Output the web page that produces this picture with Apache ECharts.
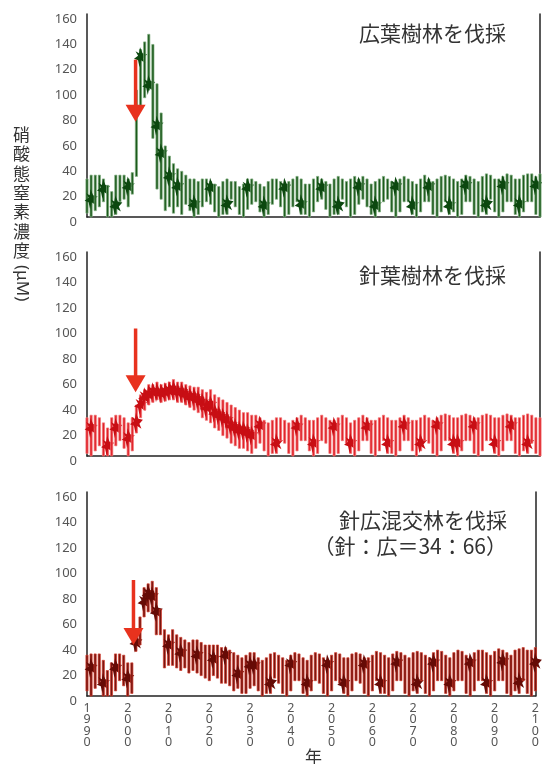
<!DOCTYPE html>
<html><head><meta charset="utf-8">
<script src="https://cdn.jsdelivr.net/npm/echarts/dist/echarts.min.js"></script>
<style>html,body{margin:0;padding:0;background:#fff}#c{width:542px;height:764px}</style>
</head><body><div id="c"></div>
<script>
// categories: one range bar per year, 1990 … 2100
const years = [];
for (let y = 1990; y <= 2100; y++) years.push(y);
const xTickLabels = [1990,2000,2010,2020,2030,2040,2050,2060,2070,2080,2090,2100];
const yTickLabels = [0,20,40,60,80,100,120,140,160];

// Panel 1: 広葉樹林を伐採 (broadleaf)
const broadLow = [
  3,0,5,8,12,0,0,2,12,14,
  8,18,32,88,94,100,62,22,14,5,
  8,3,8,2,10,5,0,2,8,12,
  10,4,0,2,2,14,8,2,0,6,
  10,12,4,0,2,10,14,8,0,2,
  8,12,2,2,0,4,12,14,6,0,
  2,2,14,8,0,2,10,14,8,2,
  0,4,12,14,4,0,4,12,12,2,
  0,4,12,12,2,0,4,12,2,4,
  0,2,12,12,2,0,4,2,14,4,
  0,4,12,12,2,0,4,12,12,2,
  0];
const broadHigh = [
  30,33,33,33,30,25,20,33,33,33,
  30,35,100,132,138,144,136,105,82,56,
  48,42,38,36,33,30,30,28,30,30,
  28,26,24,28,30,28,28,24,26,30,
  30,28,26,24,28,30,30,28,26,28,
  30,32,30,26,26,30,32,30,28,26,
  30,32,30,28,30,32,30,32,30,26,
  28,30,32,30,28,26,30,32,30,28,
  26,30,33,30,28,30,32,33,32,30,
  28,30,33,32,30,28,32,34,33,30,
  30,32,34,33,30,30,33,34,34,32,
  34];
const broadCore = [
  null,14,null,null,22,null,null,9,null,null,
  24,null,null,126,null,104,null,72,50,null,
  32,null,24,null,null,null,10,null,null,null,
  23,null,null,null,10,null,null,null,null,23,
  null,null,null,9,null,null,null,null,23,null,
  null,null,10,null,null,null,null,23,null,null,
  null,9,null,null,null,null,24,null,null,null,
  9,null,null,null,null,24,null,null,null,9,
  null,null,null,24,null,null,null,null,9,null,
  null,null,25,null,null,null,null,10,null,null,
  null,25,null,null,null,10,null,null,null,25,
  null];

// Panel 2: 針葉樹林を伐採 (conifer)
const coniferLow = [
  2,0,4,8,0,0,0,8,12,6,
  0,4,18,30,36,40,42,44,42,43,
  44,44,42,42,40,38,36,34,30,28,
  26,22,20,16,14,10,8,6,6,4,
  2,6,10,4,0,2,2,12,10,2,
  0,4,12,12,4,0,2,12,10,2,
  0,2,12,10,2,0,4,12,12,2,
  0,4,12,2,2,0,4,12,12,4,
  0,4,12,10,2,0,4,12,12,2,
  0,4,12,12,2,0,4,12,12,2,
  0,4,12,12,2,0,4,2,10,2,
  0];
const coniferHigh = [
  30,32,32,30,26,22,30,32,32,30,
  26,30,40,48,52,56,56,58,56,57,
  58,60,58,58,56,55,54,54,52,50,
  52,48,46,44,42,40,38,36,34,34,
  32,32,30,28,26,28,30,30,28,26,
  28,30,32,30,28,28,30,32,30,28,
  28,30,32,30,26,28,30,32,30,28,
  28,30,32,30,28,28,30,32,30,28,
  28,30,32,30,28,30,32,33,32,30,
  30,32,33,32,30,30,32,33,32,30,
  30,32,33,32,30,30,32,33,32,30,
  30];
const coniferCore = [
  null,22,null,null,null,8,null,22,null,null,
  14,null,26,40,46,48,50,50,49,50,
  51,52,50,50,48,46,46,44,42,38,
  40,34,32,30,28,24,22,20,20,18,
  16,null,24,null,null,null,10,null,null,null,
  null,23,null,null,null,10,null,null,null,null,
  23,null,null,null,10,null,null,null,23,null,
  null,null,null,10,null,null,null,24,null,null,
  null,10,null,null,null,24,null,null,null,10,
  10,null,null,null,24,null,null,null,null,10,
  null,null,null,24,null,null,null,10,null,null,
  null];

// Panel 3: 針広混交林を伐採 (mixed 34:66)
const mixedLow = [
  4,0,6,10,0,0,0,4,12,8,
  0,2,35,40,62,66,66,48,48,22,
  24,24,22,20,22,18,20,18,16,14,
  12,16,14,10,10,8,4,6,2,2,
  6,8,4,0,2,2,14,10,2,0,
  4,12,12,2,0,4,12,10,2,0,
  4,12,10,2,0,4,12,10,2,0,
  4,12,2,2,0,4,12,12,2,0,
  4,2,12,2,0,4,12,12,2,0,
  4,12,12,2,0,4,12,12,2,0,
  4,12,12,2,0,4,2,12,2,0,
  4];
const mixedHigh = [
  32,33,33,33,28,20,26,33,33,32,
  26,26,48,62,85,88,90,85,68,52,
  48,52,48,46,44,42,44,44,42,40,
  40,40,40,38,38,36,34,32,30,32,
  34,34,30,28,30,33,34,32,30,28,
  32,34,33,30,28,32,34,33,30,28,
  32,34,33,30,30,33,34,33,30,30,
  32,35,34,32,30,33,35,34,32,30,
  34,35,34,32,30,34,36,35,32,30,
  34,36,35,32,30,34,36,36,34,32,
  35,37,36,34,32,36,37,38,36,36,
  38];
const mixedCore = [
  null,22,null,null,10,null,null,22,null,null,
  14,null,42,null,74,80,78,66,null,null,
  40,null,null,34,null,null,null,32,null,null,
  null,29,null,null,32,null,null,17,null,null,
  24,24,null,null,null,10,null,null,null,null,
  25,null,null,null,10,null,null,null,null,25,
  null,null,null,10,null,null,null,null,25,null,
  null,null,10,null,null,null,26,null,null,null,
  null,10,null,null,null,26,null,null,null,10,
  null,null,null,null,26,null,null,null,10,null,
  null,null,27,null,null,null,11,null,null,null,
  26];

// felling arrows: year, shaft top value, arrow tip value
const arrowYear = [2001.8, 2001.8, 2001.4];
const arrowTop  = [124, 100, 91];
const arrowTip  = [75, 50, 40];

const panelTitles = ['広葉樹林を伐採', '針葉樹林を伐採', '針広混交林を伐採\n（針：広＝34：66）'];

const panels = [
  {low: broadLow, high: broadHigh, core: broadCore, bar:'#1c5a1c', edge:'#7fae7f', blob:'#0c480f'},
  {low: coniferLow, high: coniferHigh, core: coniferCore, bar:'#e0222a', edge:'#f27474', blob:'#c80e14'},
  {low: mixedLow, high: mixedHigh, core: mixedCore, bar:'#761510', edge:'#d43c2c', blob:'#660b06'}
];

const grids = [
  {left: 87, right: 2, top: 14, height: 203},
  {left: 87, right: 2, top: 252, height: 204},
  {left: 87, right: 2, top: 492, height: 204}
];

const axisColor = '#222';
const labelColor = '#555';
const FONT = '"Noto Sans", "Liberation Sans", sans-serif';
const CJK = '"Noto Sans CJK JP", sans-serif';

function makeRender(p) {
  return function (params, api) {
    const i = params.dataIndex;
    const x = api.value(0);
    const top = api.coord([x, api.value(2)]);
    const bot = api.coord([x, api.value(1)]);
    const children = [{
      type: 'rect',
      shape: {x: top[0] - 1.1, y: top[1], width: 2.2, height: Math.max(1, bot[1] - top[1])},
      style: {fill: p.bar, stroke: p.edge, lineWidth: 0.7}
    }];
    const c = p.core[i];
    if (c !== null && c !== undefined) {
      const q = api.coord([x, c]);
      const cx = q[0], cy = q[1];
      children.push({
        type: 'polygon',
        shape: {points: [[cx - 0.5, cy - 10], [cx + 2, cy - 4], [cx + 6.5, cy - 3], [cx + 3, cy + 1],
                         [cx + 5, cy + 6], [cx + 0.5, cy + 3], [cx - 1, cy + 10], [cx - 2.5, cy + 3],
                         [cx - 6.5, cy + 1.5], [cx - 2.5, cy - 1.5], [cx - 5, cy - 6], [cx - 1.5, cy - 4]]},
        style: {fill: p.blob}
      });
    }
    return {type: 'group', children: children};
  };
}

const xAxis = [], yAxis = [], series = [];
panels.forEach(function (p, k) {
  xAxis.push({
    type: 'value', gridIndex: k, min: 1990, max: 2100, interval: 10,
    axisLine: {show: true, onZero: false, lineStyle: {color: axisColor, width: 1.5}},
    axisTick: {show: false}, splitLine: {show: false},
    axisLabel: {
      show: k === 2, margin: 7, color: labelColor, fontFamily: FONT, fontSize: 12.5, lineHeight: 11.2,
      formatter: function (v) { return String(v).split('').join('\n'); }
    }
  });
  yAxis.push({
    type: 'value', gridIndex: k, min: 0, max: 160, interval: 20,
    axisLine: {show: true, lineStyle: {color: axisColor, width: 1.5}},
    axisTick: {show: false}, splitLine: {show: false},
    axisLabel: {margin: 10, color: labelColor, fontFamily: FONT, fontSize: 13, verticalAlign: 'top', lineHeight: 10}
  });
  yAxis.push({
    type: 'value', gridIndex: k, min: 0, max: 160, interval: 20, position: 'right',
    axisLine: {show: true, lineStyle: {color: axisColor, width: 1.5}},
    axisTick: {show: false}, splitLine: {show: false}, axisLabel: {show: false}
  });
  series.push({
    type: 'custom', xAxisIndex: k, yAxisIndex: 2 * k, silent: true, animation: false,
    renderItem: makeRender(p),
    encode: {x: 0, y: [1, 2]},
    data: years.map(function (y, i) { return [y, p.low[i], p.high[i]]; }),
    z: 2
  });
});

const chart = echarts.init(document.getElementById('c'), null, {renderer: 'canvas'});
const baseGraphic = [
  {type: 'text', right: 36, top: 23, style: {text: panelTitles[0], font: '21px ' + CJK, fill: '#333', textAlign: 'right'}},
  {type: 'text', right: 36, top: 265, style: {text: panelTitles[1], font: '21px ' + CJK, fill: '#333', textAlign: 'right'}},
  {type: 'text', right: 35, top: 507, style: {text: panelTitles[2], font: '21px ' + CJK, fill: '#333', textAlign: 'right', lineHeight: 26}},
  {type: 'text', left: 13, top: 125, style: {text: '硝\n酸\n態\n窒\n素\n濃\n度', font: '17px ' + CJK, fill: '#333', lineHeight: 19.3}},
  {type: 'text', x: 13, y: 265, rotation: -Math.PI / 2, originX: 0, originY: 0,
   style: {text: '(μM)', font: '17px ' + FONT, fill: '#333', textAlign: 'left', textVerticalAlign: 'bottom'}},
  {type: 'text', left: 305, top: 748, style: {text: '年', font: '17px ' + CJK, fill: '#333'}}
];
chart.setOption({
  animation: false,
  backgroundColor: '#fff',
  grid: grids,
  xAxis: xAxis,
  yAxis: yAxis,
  series: series,
  graphic: baseGraphic
});

// felling arrows, positioned through each panel's axes
const arrows = [];
for (let k = 0; k < 3; k++) {
  const t = chart.convertToPixel({gridIndex: k}, [arrowYear[k], arrowTop[k]]);
  const tip = chart.convertToPixel({gridIndex: k}, [arrowYear[k], arrowTip[k]]);
  const headH = 17, headW = 10;
  arrows.push({
    type: 'line', z: 10,
    shape: {x1: t[0], y1: t[1], x2: tip[0], y2: tip[1] - headH + 1},
    style: {stroke: '#e8321e', lineWidth: 3.5}
  });
  arrows.push({
    type: 'polygon', z: 10,
    shape: {points: [[tip[0] - headW, tip[1] - headH], [tip[0] + headW, tip[1] - headH], [tip[0], tip[1]]]},
    style: {fill: '#e8321e'}
  });
}
chart.setOption({graphic: baseGraphic.concat(arrows)});
</script>
</body></html>
